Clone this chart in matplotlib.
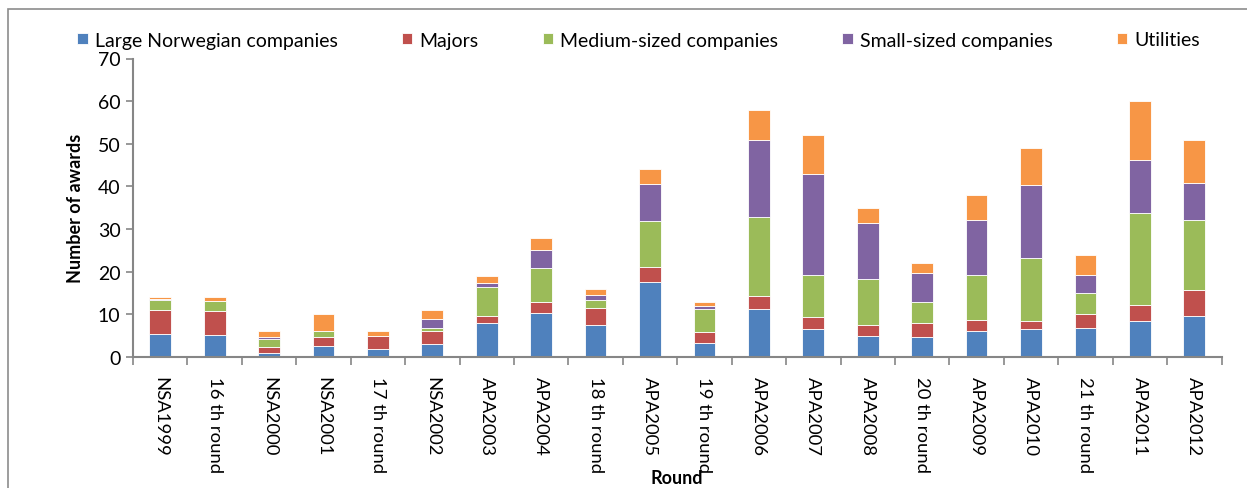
import matplotlib
matplotlib.use("Agg")
import matplotlib.pyplot as plt
from matplotlib.patches import Rectangle
import numpy as np

rounds = ["NSA1999", "16 th round", "NSA2000", "NSA2001", "17 th round", "NSA2002",
          "APA2003", "APA2004", "18 th round", "APA2005", "19 th round", "APA2006",
          "APA2007", "APA2008", "20 th round", "APA2009", "APA2010", "21 th round",
          "APA2011", "APA2012"]

large_norwegian = [5.4, 5.2, 1.0, 2.6, 1.9, 3.1, 8.0, 10.4, 7.6, 17.6, 3.4, 11.3,
                   6.6, 4.9, 4.7, 6.2, 6.5, 6.9, 8.5, 9.6]
majors = [5.6, 5.5, 1.3, 2.2, 3.1, 2.9, 1.6, 2.6, 3.9, 3.6, 2.5, 2.9,
          2.7, 2.5, 3.2, 2.4, 1.9, 3.1, 3.8, 6.1]
medium_sized = [2.3, 2.4, 2.0, 1.3, 0.0, 0.8, 6.7, 7.8, 1.8, 10.8, 5.3, 18.7,
                10.0, 11.0, 5.1, 10.6, 14.9, 4.9, 21.5, 16.5]
small_sized = [0.3, 0.0, 0.5, 0.1, 0.0, 2.0, 1.0, 4.4, 1.2, 8.5, 0.7, 17.9,
               23.7, 13.1, 6.6, 13.0, 17.0, 4.3, 12.3, 8.5]
utilities = [0.4, 0.9, 1.2, 3.8, 1.0, 2.2, 1.7, 2.8, 1.5, 3.5, 1.1, 7.2,
             9.0, 3.5, 2.4, 5.8, 8.7, 4.8, 13.9, 10.3]

series = [
    ("Large Norwegian companies", large_norwegian, "#4F81BD"),
    ("Majors", majors, "#C0504D"),
    ("Medium-sized companies", medium_sized, "#9BBB59"),
    ("Small-sized companies", small_sized, "#8064A2"),
    ("Utilities", utilities, "#F79646"),
]

plt.rcParams["font.family"] = ["Lato", "DejaVu Sans"]

fig = plt.figure(figsize=(12.47, 4.89), dpi=100)
ax = fig.add_axes([133 / 1247, 1 - 358 / 489, (1221.5 - 133) / 1247, (358 - 59.5) / 489])

# page frame
fig.patches.append(Rectangle((8 / 1247, -0.1), 1.2, 0.1 + (489 - 10) / 489,
                             transform=fig.transFigure, fill=False,
                             edgecolor="#8c8c8c", linewidth=1.2))

x = np.arange(len(rounds))
bottom = np.zeros(len(rounds))
for name, vals, color in series:
    vals = np.array(vals)
    ax.bar(x, vals, width=0.4, bottom=bottom, color=color, label=name,
           edgecolor="white", linewidth=0.6)
    bottom += vals

ax.set_xlim(-0.5, len(rounds) - 0.5)
ax.set_ylim(0, 70)
ax.set_yticks(np.arange(0, 71, 10))
ax.set_xticks(x)
ax.set_xticklabels(rounds, rotation=-90, fontsize=13.3, va="top", ha="center")
ax.set_xticks(np.arange(-0.5, len(rounds)), minor=True)
ax.tick_params(axis="x", which="major", length=0, pad=14)
ax.tick_params(axis="x", which="minor", length=6, color="#868686", width=1.2)
ax.tick_params(axis="y", length=5, color="#868686", width=1.2, labelsize=14, pad=4)

for side in ["top", "right"]:
    ax.spines[side].set_visible(False)
for side in ["left", "bottom"]:
    ax.spines[side].set_color("#868686")
    ax.spines[side].set_linewidth(1.5)

ax.set_ylabel("Number of awards", fontsize=13, fontweight="bold", labelpad=10)
ax.set_xlabel("Round", fontsize=13, fontweight="bold")
ax.xaxis.set_label_coords(0.5, -0.375)

fig.legend(loc="center", bbox_to_anchor=(0.512, 1 - 41 / 489), ncol=5, frameon=False,
           fontsize=14, handlelength=0.55, handleheight=0.55, handletextpad=0.35,
           columnspacing=3.3)

fig.savefig("out.png", dpi=100)
